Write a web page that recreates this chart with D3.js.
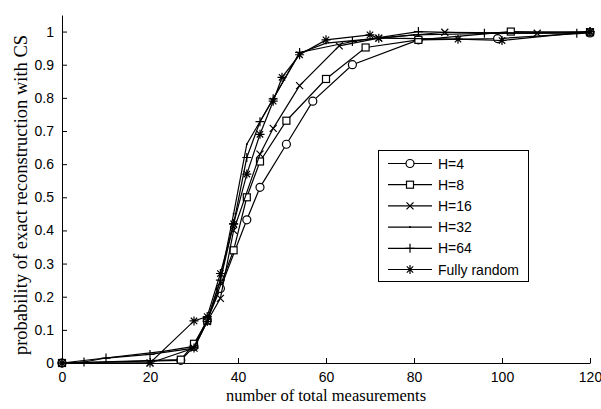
<!DOCTYPE html>
<html>
<head>
<meta charset="utf-8">
<script src="https://cdn.jsdelivr.net/npm/d3@7"></script>
<style>
  body { margin: 0; background: #fff; }
  svg { display: block; }
  .tick text { font-family: "Liberation Sans", Arial, sans-serif; font-size: 14px; fill: #000; }
  .lab { font-family: "Liberation Serif", "Times New Roman", serif; fill: #000; }
  .leg { font-family: "Liberation Sans", Arial, sans-serif; font-size: 14px; fill: #000; }
</style>
</head>
<body>
<script>
const width = 601;
const height = 409;

// data
const names = ["H=4", "H=8", "H=16", "H=32", "H=64", "Fully random"];
const markers = ["circle", "square", "cross", "dot", "plus", "star"];

const x_h4 = [0, 27, 30, 33, 36, 42, 45, 51, 57, 66, 81, 99, 120];
const y_h4 = [0, 0.008, 0.05, 0.13, 0.225, 0.432, 0.53, 0.66, 0.79, 0.9, 0.975, 0.979, 0.996];

const x_h8 = [0, 27, 30, 33, 39, 42, 45, 51, 60, 69, 81, 102, 120];
const y_h8 = [0, 0.01, 0.058, 0.128, 0.34, 0.5, 0.608, 0.731, 0.857, 0.952, 0.975, 1.0, 0.998];

const x_h16 = [0, 20, 30, 33, 36, 39, 45, 48, 54, 63, 72, 87, 108, 120];
const y_h16 = [0, 0.0, 0.045, 0.125, 0.195, 0.4, 0.63, 0.708, 0.837, 0.957, 0.98, 0.998, 0.995, 0.998];

const x_h32 = [0, 23, 30, 33, 36, 39, 42, 54, 60, 80, 100, 120];
const y_h32 = [0, 0.035, 0.05, 0.13, 0.25, 0.45, 0.66, 0.935, 0.965, 0.99, 0.995, 1.0];

const x_h64 = [0, 5, 10, 20, 30, 33, 36, 39, 42, 45, 48, 54, 66, 81, 96, 117, 120];
const y_h64 = [0, 0.003, 0.015, 0.026, 0.045, 0.125, 0.25, 0.42, 0.62, 0.728, 0.797, 0.937, 0.97, 1.0, 0.995, 0.995, 1.0];

const x_rnd = [0, 20, 30, 33, 36, 39, 42, 45, 48, 50, 54, 60, 70, 72, 90, 100, 120];
const y_rnd = [0, 0.0, 0.127, 0.14, 0.27, 0.42, 0.57, 0.69, 0.79, 0.862, 0.93, 0.975, 0.99, 0.98, 0.977, 0.973, 1.0];

const xs = [x_h4, x_h8, x_h16, x_h32, x_h64, x_rnd];
const ys = [y_h4, y_h8, y_h16, y_h32, y_h64, y_rnd];

const x_ticks = [0, 20, 40, 60, 80, 100, 120];
const y_ticks = [0, 0.1, 0.2, 0.3, 0.4, 0.5, 0.6, 0.7, 0.8, 0.9, 1];

const margin = { left: 62, right: 11, top: 15, bottom: 46 };

const svg = d3.select("body").append("svg")
  .attr("width", width)
  .attr("height", height);

const x = d3.scaleLinear().domain([0, 120]).range([margin.left, width - margin.right]);
const y = d3.scaleLinear().domain([0, 1.05]).range([height - margin.bottom, margin.top]);

// axes, MATLAB style ticks pointing inward
const xAxis = svg.append("g")
  .attr("transform", `translate(0,${y(0)})`)
  .call(d3.axisBottom(x).tickValues(x_ticks).tickSizeInner(-5).tickSizeOuter(0).tickPadding(9).tickFormat(d3.format("d")));
const yAxis = svg.append("g")
  .attr("transform", `translate(${x(0)},0)`)
  .call(d3.axisLeft(y).tickValues(y_ticks).tickSizeInner(-5).tickSizeOuter(0).tickPadding(8).tickFormat(d => d === 0 ? "0" : d === 1 ? "1" : d3.format(".1f")(d)));
[xAxis, yAxis].forEach(g => {
  g.select(".domain").attr("stroke", "#000").attr("stroke-width", 1);
  g.selectAll(".tick line").attr("stroke", "#000");
});

// marker shapes
function draw_marker(g, type, cx, cy) {
  if (type === "circle") {
    g.append("circle").attr("cx", cx).attr("cy", cy).attr("r", 4)
      .attr("fill", "#fff").attr("stroke", "#000").attr("stroke-width", 1.2);
  } else if (type === "square") {
    g.append("rect").attr("x", cx - 3.5).attr("y", cy - 3.5).attr("width", 7).attr("height", 7)
      .attr("fill", "#fff").attr("stroke", "#000").attr("stroke-width", 1.2);
  } else if (type === "cross") {
    g.append("path").attr("d", `M${cx-3.5},${cy-3.5}L${cx+3.5},${cy+3.5}M${cx-3.5},${cy+3.5}L${cx+3.5},${cy-3.5}`)
      .attr("stroke", "#000").attr("stroke-width", 1.2);
  } else if (type === "dot") {
    g.append("circle").attr("cx", cx).attr("cy", cy).attr("r", 1).attr("fill", "#000");
  } else if (type === "plus") {
    g.append("path").attr("d", `M${cx-4.5},${cy}L${cx+4.5},${cy}M${cx},${cy-4.5}L${cx},${cy+4.5}`)
      .attr("stroke", "#000").attr("stroke-width", 1.2);
  } else if (type === "star") {
    const r = 4.5, d = 3.2;
    g.append("path").attr("d", `M${cx-r},${cy}L${cx+r},${cy}M${cx},${cy-r}L${cx},${cy+r}M${cx-d},${cy-d}L${cx+d},${cy+d}M${cx-d},${cy+d}L${cx+d},${cy-d}`)
      .attr("stroke", "#000").attr("stroke-width", 1.2);
  }
}

const line = d3.line().x(d => x(d[0])).y(d => y(d[1]));

names.forEach(function(name, i) {
  const pts = xs[i].map((v, j) => [v, ys[i][j]]);
  const g = svg.append("g");
  g.append("path").datum(pts).attr("d", line)
    .attr("fill", "none").attr("stroke", "#000").attr("stroke-width", 1.2);
  pts.forEach(p => draw_marker(g, markers[i], x(p[0]), y(p[1])));
});

// legend
const leg = svg.append("g");
leg.append("rect").attr("x", 378.5).attr("y", 150.5).attr("width", 150).attr("height", 131)
  .attr("fill", "#fff").attr("stroke", "#000").attr("stroke-width", 1);
names.forEach(function(name, i) {
  const ly = 163.5 + i * 21.2;
  leg.append("line").attr("x1", 388).attr("x2", 432).attr("y1", ly).attr("y2", ly)
    .attr("stroke", "#000").attr("stroke-width", 1.2);
  draw_marker(leg, markers[i], 410, ly);
  leg.append("text").attr("class", "leg").attr("x", 438).attr("y", ly + 5).text(name);
});

// axis labels
svg.append("text").attr("class", "lab").attr("text-anchor", "middle")
  .style("font-size", "16.5px")
  .attr("x", x(60)).attr("y", 401).text("number of total measurements");
svg.append("text").attr("class", "lab").attr("text-anchor", "middle")
  .style("font-size", "18.5px")
  .attr("transform", `translate(27,${(y(0) + y(1.05)) / 2 + 6}) rotate(-90)`)
  .text("probability of exact reconstruction with CS");
</script>
</body>
</html>
